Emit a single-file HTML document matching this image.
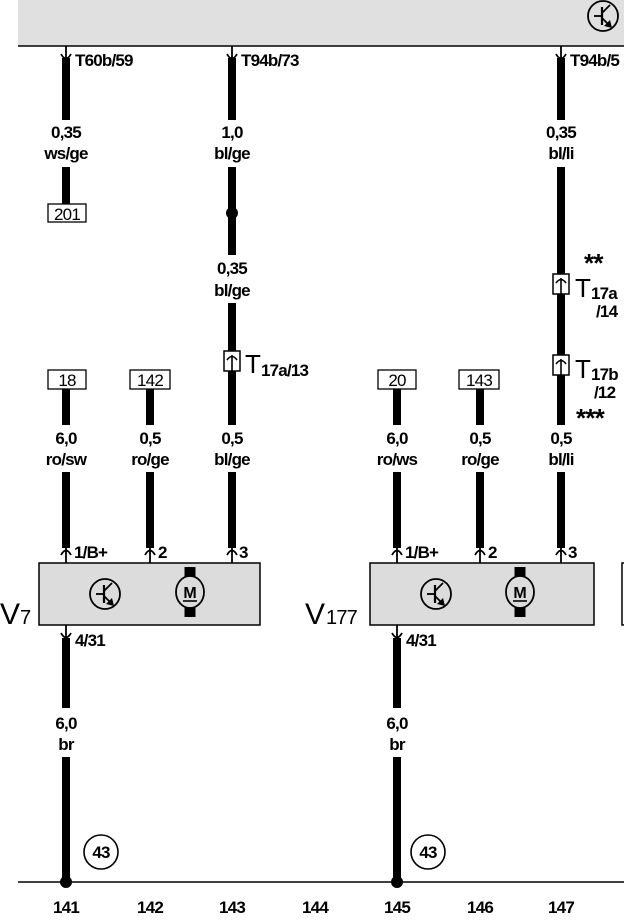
<!DOCTYPE html>
<html><head><meta charset="utf-8"><style>
html,body{margin:0;padding:0;background:#fff;}
svg{display:block;}
text{font-family:"Liberation Sans",Arial,sans-serif;font-weight:bold;fill:#000;letter-spacing:-0.8px;}
</style></head><body>
<svg width="624" height="922" viewBox="0 0 624 922" xmlns="http://www.w3.org/2000/svg">
<defs>
  <g id="tr">
    <circle cx="0" cy="0" r="15" fill="none" stroke="#000" stroke-width="1.8"/>
    <line x1="-1" y1="-9" x2="-1" y2="9" stroke="#000" stroke-width="2.2"/>
    <line x1="-9" y1="0" x2="-1" y2="0" stroke="#000" stroke-width="1.8"/>
    <line x1="-1" y1="-3" x2="7" y2="-11" stroke="#000" stroke-width="1.8"/>
    <line x1="-1" y1="2" x2="6" y2="9" stroke="#000" stroke-width="1.8"/>
    <path d="M9,12 L1,10 L7,4 Z" fill="#000"/>
  </g>
  <g id="mot">
    <rect x="-5.5" y="-25" width="11" height="50" fill="#000"/>
    <ellipse cx="0" cy="0" rx="14" ry="16" fill="#dcdcdc" stroke="#000" stroke-width="1.8"/>
    <text x="0" y="6" font-size="16" text-anchor="middle" style="letter-spacing:0">M</text>
    <line x1="-7" y1="9" x2="7" y2="9" stroke="#000" stroke-width="1.6"/>
  </g>
  <g id="conn">
    <rect x="-8" y="-10" width="16" height="20" fill="#fff" stroke="#000" stroke-width="1.5"/>
    <path d="M-5,-1 Q0,-8 5,-1" fill="none" stroke="#000" stroke-width="1.6"/>
    <line x1="0" y1="-6" x2="0" y2="10" stroke="#000" stroke-width="1.6"/>
  </g>
  <g id="pin-down">
    <line x1="0" y1="0" x2="0" y2="14" stroke="#000" stroke-width="1.8"/>
    <path d="M-5,8 Q0,17 5,8" fill="none" stroke="#000" stroke-width="1.8"/>
  </g>
  <g id="pin-up">
    <line x1="0" y1="0" x2="0" y2="-16" stroke="#000" stroke-width="1.8"/>
    <path d="M-5,-8 Q0,-17 5,-8" fill="none" stroke="#000" stroke-width="1.8"/>
  </g>
</defs>

<rect x="18" y="0" width="606" height="46" fill="#e0e0e0"/>
<line x1="18" y1="46" x2="624" y2="46" stroke="#000" stroke-width="1.5"/>
<use href="#tr" x="603" y="16"/>

<use href="#pin-down" x="66" y="46"/>
<use href="#pin-down" x="232" y="46"/>
<use href="#pin-down" x="561" y="46"/>
<text x="75" y="66" font-size="17">T60b/59</text>
<text x="241" y="66" font-size="17">T94b/73</text>
<text x="570" y="66" font-size="17">T94b/5</text>

<rect x="62" y="58" width="8" height="62" fill="#000"/>
<text x="66" y="138" font-size="17" text-anchor="middle">0,35</text>
<text x="66" y="159" font-size="17" text-anchor="middle">ws/ge</text>
<rect x="62" y="167" width="8" height="37" fill="#000"/>
<rect x="48" y="204" width="38" height="18" fill="#fff" stroke="#000" stroke-width="1.3"/>
<text x="67" y="220" font-size="17" style="font-weight:normal" text-anchor="middle">201</text>

<rect x="228" y="58" width="8" height="62" fill="#000"/>
<text x="232" y="138" font-size="17" text-anchor="middle">1,0</text>
<text x="232" y="159" font-size="17" text-anchor="middle">bl/ge</text>
<rect x="228" y="167" width="8" height="88" fill="#000"/>
<circle cx="232" cy="213" r="6" fill="#000"/>
<text x="232" y="274" font-size="17" text-anchor="middle">0,35</text>
<text x="232" y="296" font-size="17" text-anchor="middle">bl/ge</text>
<rect x="228" y="303" width="8" height="122" fill="#000"/>
<use href="#conn" x="232" y="361"/>
<text x="245" y="373" font-size="26" style="font-weight:normal">T</text>
<text x="261" y="376" font-size="17">17a/13</text>

<rect x="557" y="58" width="8" height="62" fill="#000"/>
<text x="561" y="138" font-size="17" text-anchor="middle">0,35</text>
<text x="561" y="159" font-size="17" text-anchor="middle">bl/li</text>
<rect x="557" y="167" width="8" height="258" fill="#000"/>
<text x="584" y="272" font-size="26">**</text>
<use href="#conn" x="561" y="284"/>
<text x="575" y="297" font-size="26" style="font-weight:normal">T</text>
<text x="591" y="299" font-size="17">17a</text>
<text x="596" y="317" font-size="17">/14</text>
<use href="#conn" x="561" y="365"/>
<text x="575" y="378" font-size="26" style="font-weight:normal">T</text>
<text x="591" y="380" font-size="17">17b</text>
<text x="594" y="398" font-size="17">/12</text>
<text x="576" y="427" font-size="26">***</text>

<g font-size="17">
<rect x="48" y="370" width="38" height="19" fill="#fff" stroke="#000" stroke-width="1.3"/>
<text x="67" y="386" text-anchor="middle" style="font-weight:normal">18</text>
<rect x="130" y="370" width="40" height="19" fill="#fff" stroke="#000" stroke-width="1.3"/>
<text x="150" y="386" text-anchor="middle" style="font-weight:normal">142</text>
<rect x="378" y="370" width="38" height="19" fill="#fff" stroke="#000" stroke-width="1.3"/>
<text x="397" y="386" text-anchor="middle" style="font-weight:normal">20</text>
<rect x="459" y="370" width="40" height="19" fill="#fff" stroke="#000" stroke-width="1.3"/>
<text x="479" y="386" text-anchor="middle" style="font-weight:normal">143</text>
</g>
<rect x="62" y="389" width="8" height="36" fill="#000"/>
<rect x="146" y="389" width="8" height="36" fill="#000"/>
<rect x="393" y="389" width="8" height="36" fill="#000"/>
<rect x="476" y="389" width="8" height="36" fill="#000"/>

<g font-size="17" text-anchor="middle">
<text x="66" y="444">6,0</text><text x="66" y="465">ro/sw</text>
<text x="150" y="444">0,5</text><text x="150" y="465">ro/ge</text>
<text x="232" y="444">0,5</text><text x="232" y="465">bl/ge</text>
<text x="397" y="444">6,0</text><text x="397" y="465">ro/ws</text>
<text x="480" y="444">0,5</text><text x="480" y="465">ro/ge</text>
<text x="561" y="444">0,5</text><text x="561" y="465">bl/li</text>
</g>
<rect x="62" y="472" width="8" height="76" fill="#000"/>
<rect x="146" y="472" width="8" height="76" fill="#000"/>
<rect x="228" y="472" width="8" height="76" fill="#000"/>
<rect x="393" y="472" width="8" height="76" fill="#000"/>
<rect x="476" y="472" width="8" height="76" fill="#000"/>
<rect x="557" y="472" width="8" height="76" fill="#000"/>
<use href="#pin-up" x="66" y="563"/>
<use href="#pin-up" x="150" y="563"/>
<use href="#pin-up" x="232" y="563"/>
<use href="#pin-up" x="397" y="563"/>
<use href="#pin-up" x="480" y="563"/>
<use href="#pin-up" x="561" y="563"/>
<g font-size="17">
<text x="74" y="558">1/B+</text><text x="158" y="558">2</text><text x="239" y="558">3</text>
<text x="405" y="558">1/B+</text><text x="488" y="558">2</text><text x="568" y="558">3</text>
</g>

<rect x="39" y="563" width="221" height="62" fill="#dcdcdc" stroke="#000" stroke-width="1.5"/>
<rect x="370" y="563" width="224" height="62" fill="#dcdcdc" stroke="#000" stroke-width="1.5"/>
<rect x="622" y="563" width="10" height="62" fill="#fff" stroke="#000" stroke-width="1.5"/>
<use href="#tr" x="105" y="594"/>
<use href="#mot" x="190" y="592"/>
<use href="#tr" x="436" y="594"/>
<use href="#mot" x="520" y="592"/>
<text x="0" y="624" font-size="30" style="font-weight:normal;letter-spacing:0">V</text>
<text x="20" y="624" font-size="20" style="font-weight:normal">7</text>
<text x="305" y="624" font-size="30" style="font-weight:normal;letter-spacing:0">V</text>
<text x="326" y="624" font-size="20" style="font-weight:normal">177</text>

<use href="#pin-down" x="66" y="625"/>
<use href="#pin-down" x="397" y="625"/>
<text x="75" y="646" font-size="17">4/31</text>
<text x="406" y="646" font-size="17">4/31</text>
<rect x="62" y="638" width="8" height="70" fill="#000"/>
<rect x="393" y="638" width="8" height="70" fill="#000"/>
<g font-size="17" text-anchor="middle">
<text x="66" y="729">6,0</text><text x="66" y="750">br</text>
<text x="397" y="729">6,0</text><text x="397" y="750">br</text>
</g>
<rect x="62" y="757" width="8" height="125" fill="#000"/>
<rect x="393" y="757" width="8" height="125" fill="#000"/>
<circle cx="101" cy="852" r="17" fill="#fff" stroke="#000" stroke-width="1.6"/>
<circle cx="428" cy="852" r="17" fill="#fff" stroke="#000" stroke-width="1.6"/>
<text x="101" y="858" font-size="17" text-anchor="middle">43</text>
<text x="428" y="858" font-size="17" text-anchor="middle">43</text>
<line x1="18" y1="882" x2="624" y2="882" stroke="#000" stroke-width="1.5"/>
<circle cx="66" cy="882" r="6" fill="#000"/>
<circle cx="397" cy="882" r="6" fill="#000"/>
<g font-size="17" text-anchor="middle">
<text x="66" y="913">141</text><text x="150" y="913">142</text><text x="232" y="913">143</text>
<text x="315" y="913">144</text><text x="397" y="913">145</text><text x="480" y="913">146</text><text x="561" y="913">147</text>
</g>
</svg>
</body></html>
